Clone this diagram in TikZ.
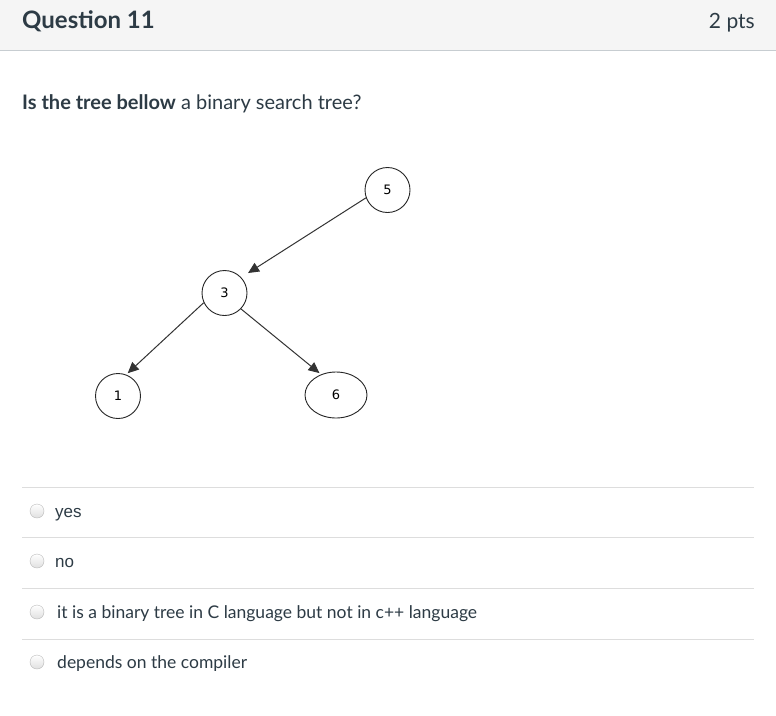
\documentclass[tikz,border=0pt]{standalone}
\usepackage{fontspec}
\setmainfont{Lato}
\newfontfamily\arialfont{Liberation Sans}
\newfontfamily\treefont{DejaVu Sans}
\usetikzlibrary{arrows.meta,shapes.geometric}
\definecolor{canvastext}{HTML}{2D3B45}
\definecolor{hdrgray}{HTML}{F5F5F5}
\definecolor{hdrline}{HTML}{C7CDD1}
\definecolor{sepgray}{HTML}{DDDDDD}

\tikzset{
    treenode/.style={draw=black!85, line width=0.9pt, circle, minimum size=45pt, inner sep=0pt, font=\treefont\fontsize{13}{13}\selectfont},
    treeedge/.style={draw=black!80, line width=1pt, -{Triangle[length=11pt,width=10pt]}},
    radio/.style={circle, draw=gray!55, top color=white, bottom color=gray!25, minimum size=14pt, inner sep=0pt},
    answer/.style={anchor=base west, inner sep=0pt, text=canvastext, font=\fontsize{17.5}{17.5}\selectfont},
    sepline/.style={draw=sepgray, line width=1pt}
}

\begin{document}
\begin{tikzpicture}[x=1pt,y=-1pt]
                \useasboundingbox[fill=white] (0,0) rectangle (776,715);
                \fill[hdrgray] (0,0) rectangle (776,50);
                \draw[hdrline, line width=1.2pt] (0,50.5) -- (776,50.5);

                \node[anchor=base west, inner sep=0pt, text=canvastext, font=\bfseries\fontsize{24}{24}\selectfont] (qtitle) at (22,28.5) {Question 11};
                \node[anchor=base east, inner sep=0pt, text=canvastext, font=\fontsize{21}{21}\selectfont] (qpts) at (755,28) {2 pts};
                \node[anchor=base west, inner sep=0pt, text=canvastext, font=\fontsize{20}{20}\selectfont] (qtext) at (22,109) {\textbf{Is the tree bellow} a binary search tree?};

                \node[treenode] (n5) at (387.5,190) {5};
                \node[treenode] (n3) at (224.5,293) {3};
                \node[treenode] (n1) at (118,396) {1};
                \node[treenode, ellipse, minimum width=62pt, minimum height=46pt] (n6) at (336,395) {6};

                \draw[treeedge, shorten >=8pt] (n5.200) -- (n3.43);
                \draw[treeedge, shorten >=2pt] (n3.205) -- (n1.69);
                \draw[treeedge, shorten >=2pt] (n3.-44) -- (n6.126);

                \draw[sepline] (22,487) -- (754,487);
                \draw[sepline] (22,537) -- (754,537);
                \draw[sepline] (22,588) -- (754,588);
                \draw[sepline] (22,639) -- (754,639);

                \node[radio] (r1) at (37,511) {};
                \node[radio] (r2) at (37,561) {};
                \node[radio] (r3) at (37,612) {};
                \node[radio] (r4) at (37,662) {};

                \node[answer, font=\arialfont\fontsize{17}{17}\selectfont] (a1) at (55,517) {yes};
                \node[answer, font=\arialfont\fontsize{17}{17}\selectfont] (a2) at (55,567) {no};
                \node[answer] (a3) at (57,618) {it is a binary tree in C language but not in c++ language};
                \node[answer] (a4) at (57,668) {depends on the compiler};
\end{tikzpicture}
\end{document}
